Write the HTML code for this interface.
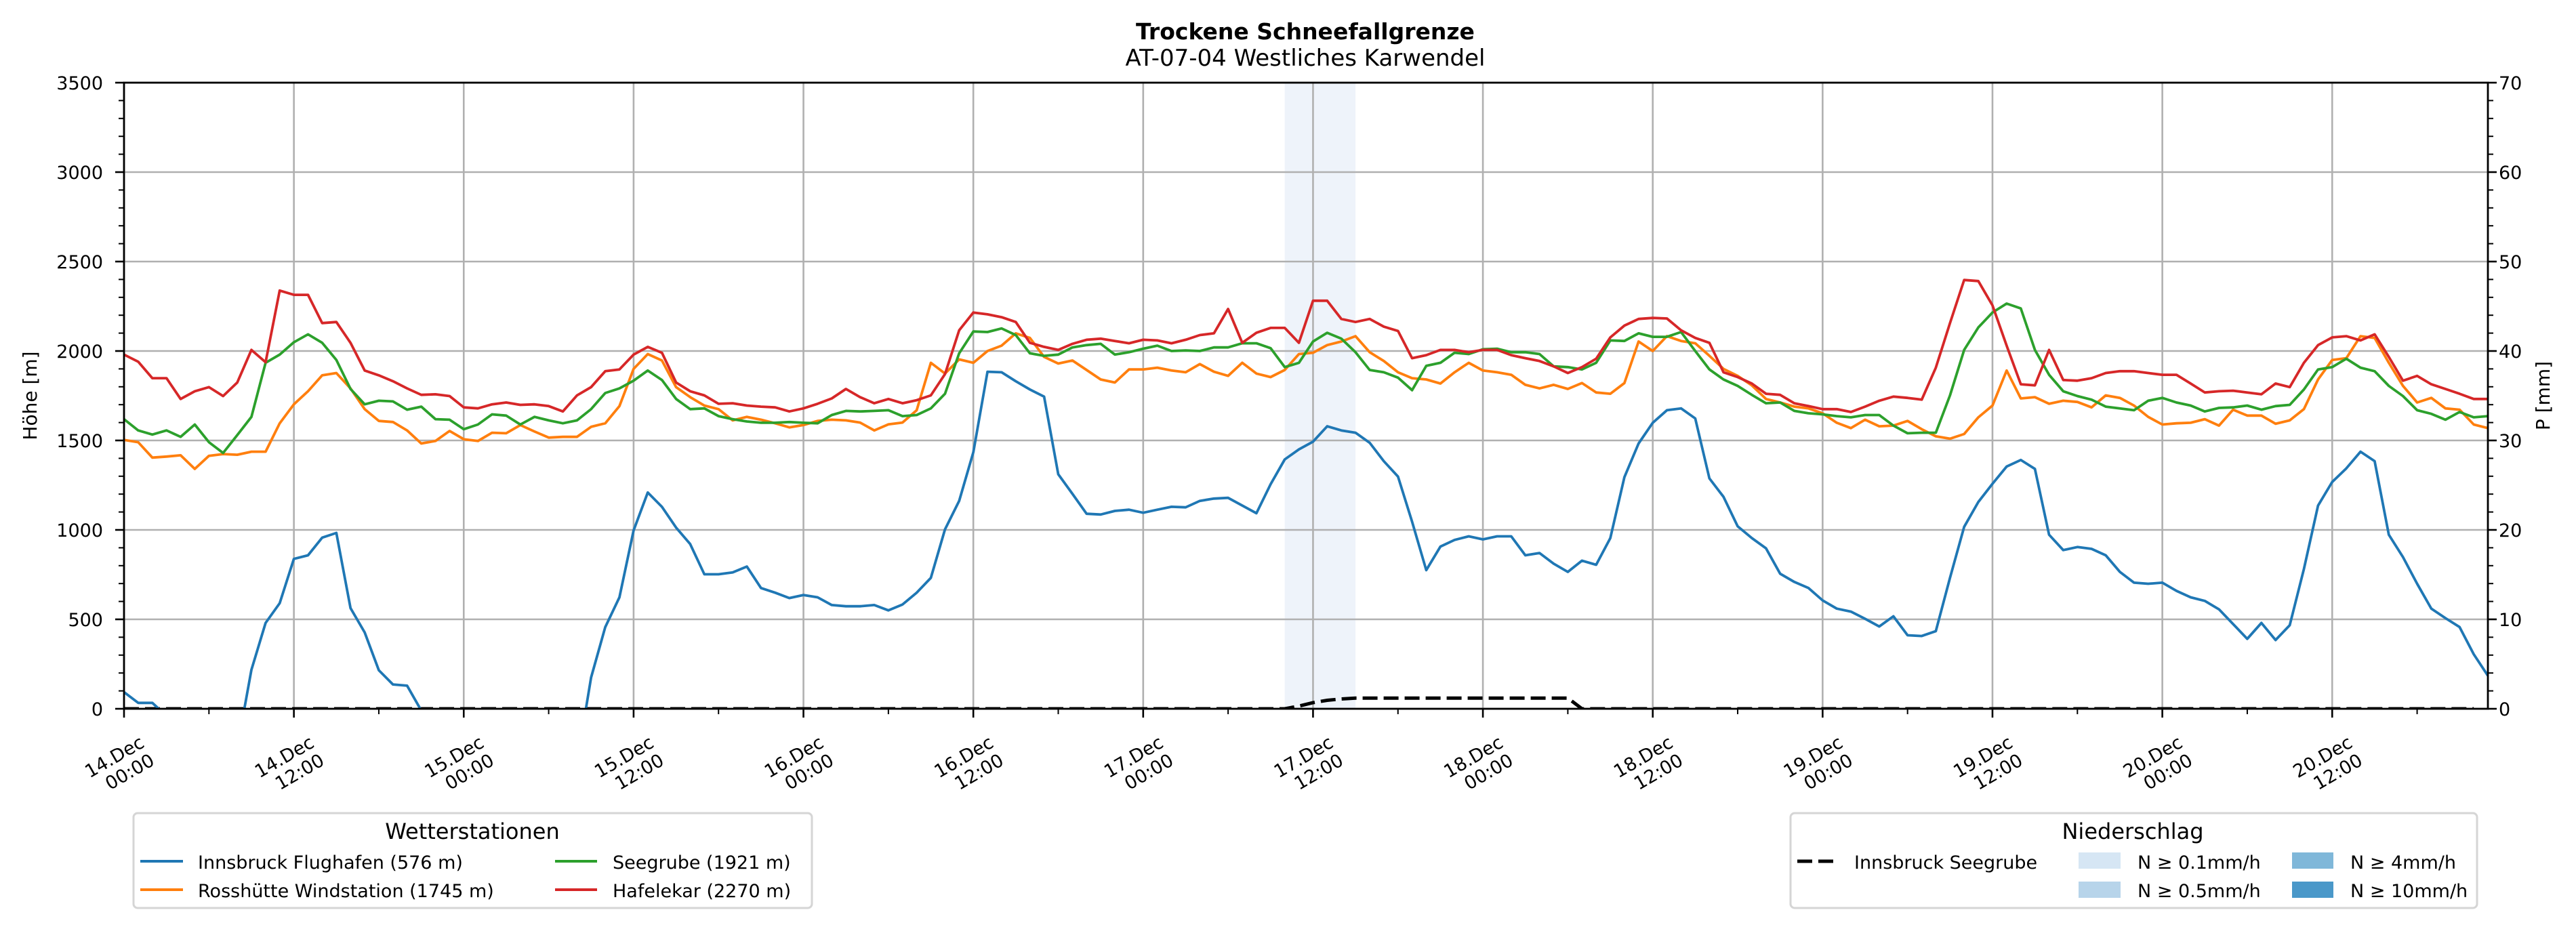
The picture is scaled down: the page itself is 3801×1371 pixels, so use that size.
<!DOCTYPE html>
<html><head><meta charset="utf-8"><style>
html,body{margin:0;padding:0;background:#fff}
svg{display:block;font-family:"DejaVu Sans","Liberation Sans",sans-serif}
</style></head><body>
<svg id="chart" width="3801" height="1371" viewBox="0 0 3801 1371" xmlns="http://www.w3.org/2000/svg">
<defs><clipPath id="plotclip"><rect x="183" y="122" width="3488" height="924"/></clipPath></defs>
<rect width="3801" height="1371" fill="#fff"/>
<text x="1926" y="58" font-size="33" font-weight="bold" text-anchor="middle">Trockene Schneefallgrenze</text>
<text x="1926" y="97" font-size="34" text-anchor="middle">AT-07-04 Westliches Karwendel</text>
<g id="shade"></g><g id="grid"></g><g id="series" clip-path="url(#plotclip)"></g><g id="axes"></g>
<text transform="translate(54,584) rotate(-90)" font-size="28" text-anchor="middle">Höhe [m]</text>
<text transform="translate(3762,584) rotate(-90)" font-size="28" text-anchor="middle">P [mm]</text>

<g>
<rect x="197" y="1200" width="1001" height="140" rx="6" fill="#fff" stroke="#d5d5d5" stroke-width="3"/>
<text x="697" y="1238" font-size="32" text-anchor="middle">Wetterstationen</text>
<g><line x1="207" y1="1271" x2="270" y2="1271" stroke="#1f77b4" stroke-width="4"/><text x="292" y="1282" font-size="27">Innsbruck Flughafen (576 m)</text></g>
<g><line x1="207" y1="1313" x2="270" y2="1313" stroke="#ff7f0e" stroke-width="4"/><text x="292" y="1324" font-size="27">Rosshütte Windstation (1745 m)</text></g>
<g><line x1="819" y1="1271" x2="881" y2="1271" stroke="#2ca02c" stroke-width="4"/><text x="904" y="1282" font-size="27">Seegrube (1921 m)</text></g>
<g><line x1="819" y1="1313" x2="881" y2="1313" stroke="#d62728" stroke-width="4"/><text x="904" y="1324" font-size="27">Hafelekar (2270 m)</text></g>
</g>

<g>
<rect x="2642" y="1200" width="1013" height="140" rx="6" fill="#fff" stroke="#d5d5d5" stroke-width="3"/>
<text x="3147" y="1238" font-size="32" text-anchor="middle">Niederschlag</text>
<g><line x1="2652" y1="1271" x2="2708" y2="1271" stroke="#000" stroke-width="5" stroke-dasharray="22 9"/><text x="2736" y="1282" font-size="27">Innsbruck Seegrube</text></g>
<g><rect x="3067" y="1258" width="62" height="24" fill="#d6e6f4"/><text x="3154" y="1282" font-size="27">N ≥ 0.1mm/h</text></g>
<g><rect x="3067" y="1301" width="62" height="24" fill="#b7d4ea"/><text x="3154" y="1324" font-size="27">N ≥ 0.5mm/h</text></g>
<g><rect x="3382" y="1258" width="61" height="24" fill="#7fb7d9"/><text x="3468" y="1282" font-size="27">N ≥ 4mm/h</text></g>
<g><rect x="3382" y="1301" width="61" height="24" fill="#4a98c9"/><text x="3468" y="1324" font-size="27">N ≥ 10mm/h</text></g>
</g>
</svg>
<script>
const xTickLabels = [["14.Dec","00:00"],["14.Dec","12:00"],["15.Dec","00:00"],["15.Dec","12:00"],["16.Dec","00:00"],["16.Dec","12:00"],["17.Dec","00:00"],["17.Dec","12:00"],["18.Dec","00:00"],["18.Dec","12:00"],["19.Dec","00:00"],["19.Dec","12:00"],["20.Dec","00:00"],["20.Dec","12:00"]];
const yTicks = [0,500,1000,1500,2000,2500,3000,3500];
const y2Ticks = [0,10,20,30,40,50,60,70];
const shadeHours = [82, 87];
const innsbruck = [93,33,33,-40,-200,-200,-200,-200,-218,218,480,590,838,858,957,983,563,427,215,136,129,-10,-200,-200,-200,-200,-200,-200,-200,-200,-200,-200,-300,175,457,623,997,1209,1129,1013,921,752,752,762,795,675,649,619,636,623,580,573,573,580,550,583,649,732,1003,1162,1434,1884,1881,1831,1785,1745,1311,1202,1090,1086,1106,1113,1096,1113,1129,1126,1162,1175,1179,1136,1093,1255,1394,1450,1493,1579,1556,1543,1487,1384,1298,1046,775,907,944,964,947,964,964,858,871,811,765,828,805,954,1295,1483,1599,1669,1679,1623,1288,1185,1020,954,897,755,709,675,606,560,543,503,460,517,411,407,434,732,1017,1156,1258,1354,1391,1341,973,887,904,894,858,765,705,699,705,659,623,603,556,474,391,480,384,467,781,1136,1268,1344,1437,1384,973,848,699,560,507,457,305,185];
const rosshuette = [1503,1490,1404,1410,1417,1341,1414,1424,1420,1437,1437,1596,1702,1775,1864,1877,1791,1675,1609,1603,1556,1483,1497,1553,1507,1497,1543,1540,1586,1550,1516,1520,1520,1576,1596,1692,1900,1983,1947,1798,1742,1695,1675,1612,1632,1616,1596,1573,1586,1609,1616,1612,1600,1556,1590,1600,1669,1934,1874,1953,1934,2000,2030,2099,2073,1967,1930,1947,1894,1841,1824,1897,1897,1907,1891,1881,1927,1884,1861,1934,1874,1854,1894,1983,1990,2033,2053,2083,1993,1944,1881,1848,1841,1818,1881,1934,1891,1881,1867,1811,1791,1811,1788,1821,1768,1761,1821,2053,2000,2083,2056,2043,1973,1900,1861,1808,1732,1712,1689,1679,1652,1599,1569,1616,1579,1583,1609,1563,1523,1510,1536,1629,1695,1891,1735,1742,1705,1722,1715,1685,1752,1738,1695,1632,1589,1596,1599,1619,1583,1672,1639,1639,1593,1612,1675,1841,1950,1960,2083,2073,1934,1805,1712,1738,1679,1672,1589,1569];
const seegrube = [1619,1556,1533,1556,1520,1589,1490,1430,1530,1632,1934,1980,2049,2093,2046,1950,1788,1702,1722,1718,1672,1689,1619,1616,1563,1589,1646,1639,1589,1632,1612,1596,1612,1675,1765,1791,1834,1891,1838,1732,1675,1679,1636,1619,1606,1599,1599,1603,1599,1596,1642,1665,1662,1665,1669,1636,1642,1679,1761,1987,2109,2106,2126,2089,1987,1973,1980,2020,2033,2040,1980,1993,2013,2030,2000,2003,2000,2020,2020,2043,2043,2016,1910,1934,2053,2102,2069,1993,1894,1881,1851,1781,1917,1934,1990,1983,2010,2013,1993,1993,1983,1914,1910,1897,1934,2059,2056,2099,2079,2079,2106,2000,1897,1841,1805,1755,1708,1712,1665,1652,1646,1636,1629,1642,1642,1583,1540,1543,1543,1752,2006,2132,2215,2265,2238,2006,1867,1775,1748,1728,1689,1679,1669,1722,1738,1712,1695,1662,1682,1685,1695,1672,1692,1699,1785,1897,1910,1957,1907,1887,1805,1748,1669,1649,1616,1659,1629,1636];
const hafelekar = [1980,1940,1848,1848,1732,1775,1798,1748,1824,2006,1937,2338,2314,2314,2156,2162,2046,1891,1864,1831,1791,1755,1758,1748,1685,1679,1702,1712,1699,1702,1692,1662,1752,1798,1887,1897,1980,2023,1990,1824,1775,1752,1705,1708,1695,1689,1685,1662,1679,1705,1735,1788,1742,1708,1732,1708,1725,1752,1871,2116,2215,2205,2189,2162,2046,2023,2006,2040,2063,2069,2056,2043,2063,2059,2043,2063,2089,2099,2235,2046,2102,2129,2129,2046,2281,2281,2179,2162,2179,2136,2112,1960,1977,2006,2006,1993,2006,2006,1977,1960,1944,1914,1877,1910,1957,2076,2142,2179,2185,2182,2116,2073,2046,1881,1854,1818,1761,1755,1708,1692,1675,1675,1659,1689,1722,1745,1738,1728,1907,2156,2397,2391,2255,2030,1814,1808,2006,1838,1834,1848,1877,1887,1887,1877,1867,1867,1818,1768,1775,1778,1768,1758,1818,1798,1934,2033,2076,2083,2059,2093,1967,1834,1861,1814,1788,1761,1732,1732];
const precipSeegrube = [0,0,0,0,0,0,0,0,0,0,0,0,0,0,0,0,0,0,0,0,0,0,0,0,0,0,0,0,0,0,0,0,0,0,0,0,0,0,0,0,0,0,0,0,0,0,0,0,0,0,0,0,0,0,0,0,0,0,0,0,0,0,0,0,0,0,0,0,0,0,0,0,0,0,0,0,0,0,0,0,0,0,0,0.3,0.68,0.95,1.1,1.2,1.2,1.2,1.2,1.2,1.2,1.2,1.2,1.2,1.2,1.2,1.2,1.2,1.2,1.2,1.2,0,0,0,0,0,0,0,0,0,0,0,0,0,0,0,0,0,0,0,0,0,0,0,0,0,0,0,0,0,0,0,0,0,0,0,0,0,0,0,0,0,0,0,0,0,0,0,0,0,0,0,0,0,0,0,0,0,0,0,0,0,0,0,0];

const NS='http://www.w3.org/2000/svg';
const L=183,R=3671,T=122,B=1046,HMAX=167;
const x=h=>L+(R-L)*h/HMAX;
const y=v=>B-(B-T)*v/3500;
const y2=v=>B-(B-T)*v/70;
function mk(tag,attrs,parent){const e=document.createElementNS(NS,tag);for(const k in attrs)e.setAttribute(k,attrs[k]);parent.appendChild(e);return e;}
const gShade=document.getElementById('shade'),gGrid=document.getElementById('grid'),gS=document.getElementById('series'),gA=document.getElementById('axes');

const sh=mk('rect',{x:x(shadeHours[0]),y:T,width:x(shadeHours[1])-x(shadeHours[0]),height:B-T,fill:'#eef3fa'},gShade);



xTickLabels.forEach((lab,i)=>{
  const xx=x(i*12);
  const gl=mk('line',{x1:xx,y1:T,x2:xx,y2:B,stroke:'#b0b0b0','stroke-width':2.6},gGrid);
  
  
  mk('line',{x1:xx,y1:B,x2:xx,y2:B+13,stroke:'#000','stroke-width':2.6},gA);
  const t1=mk('text',{transform:`translate(${xx-9.5},1125) rotate(-30)`,'font-size':27,'text-anchor':'middle'},gA);
  t1.textContent=lab[0];
  
  
  const t2=mk('text',{transform:`translate(${xx+13},1147) rotate(-30)`,'font-size':27,'text-anchor':'middle'},gA);
  t2.textContent=lab[1];
  
  
});
for(let h=6;h<=HMAX;h+=12){mk('line',{x1:x(h),y1:B,x2:x(h),y2:B+8,stroke:'#000','stroke-width':2},gA);}
yTicks.forEach(v=>{
  const gl=mk('line',{x1:L,y1:y(v),x2:R,y2:y(v),stroke:'#b0b0b0','stroke-width':2.6},gGrid);
  
  
  mk('line',{x1:L-13,y1:y(v),x2:L,y2:y(v),stroke:'#000','stroke-width':2.6},gA);
  const t=mk('text',{x:L-31,y:y(v)+10,'font-size':27,'text-anchor':'end'},gA);
  t.textContent=v;
  
  
});
for(let v=100;v<3500;v+=100){if(v%500)mk('line',{x1:L-8,y1:y(v),x2:L,y2:y(v),stroke:'#000','stroke-width':2},gA);}
y2Ticks.forEach(v=>{
  mk('line',{x1:R,y1:y2(v),x2:R+13,y2:y2(v),stroke:'#000','stroke-width':2.6},gA);
  const t=mk('text',{x:R+16,y:y2(v)+10,'font-size':27},gA);
  t.textContent=v;
  
  
});
for(let v=2;v<70;v+=2){if(v%10)mk('line',{x1:R,y1:y2(v),x2:R+8,y2:y2(v),stroke:'#000','stroke-width':2},gA);}

function poly(arr,fy,color,name,extra){
  const pts=arr.map((v,i)=>x(i).toFixed(1)+','+fy(v).toFixed(1)).join(' ');
  const p=mk('polyline',Object.assign({points:pts,fill:'none',stroke:color,'stroke-width':3.8,'stroke-linejoin':'round'},extra||{}),gS);
  
  
}
poly(precipSeegrube,y2,'#000','precip-seegrube-line',{'stroke-width':5,'stroke-dasharray':'22 9','stroke-linejoin':'miter'});
poly(innsbruck,y,'#1f77b4','innsbruck-flughafen-line');
poly(rosshuette,y,'#ff7f0e','rosshuette-line');
poly(seegrube,y,'#2ca02c','seegrube-line');
poly(hafelekar,y,'#d62728','hafelekar-line');

const fr=mk('rect',{x:L,y:T,width:R-L,height:B-T,fill:'none',stroke:'#000','stroke-width':2.8},gA);


</script>
</body></html>
